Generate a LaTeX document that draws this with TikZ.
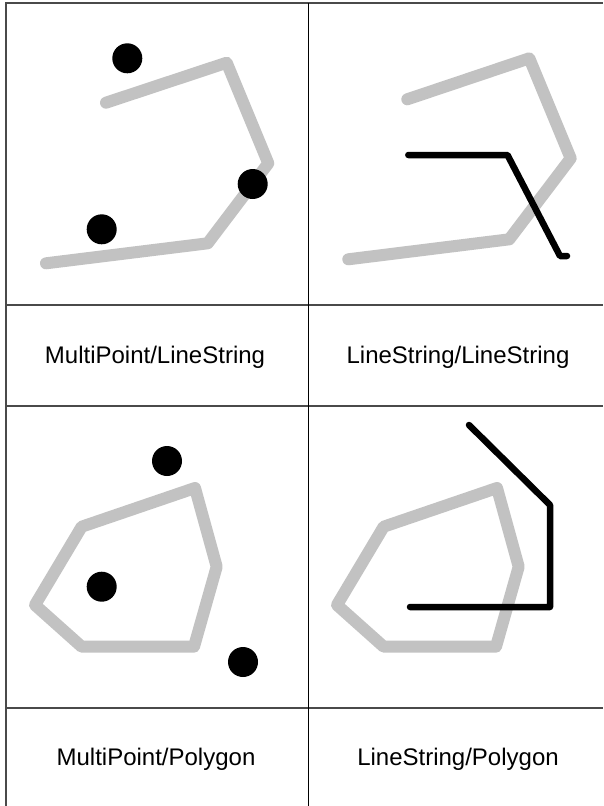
\documentclass[tikz,border=0pt]{standalone}
\usepackage{fontspec}
\setmainfont{Liberation Sans}
\definecolor{geomgrey}{HTML}{C2C2C2}
\definecolor{rulegrey}{HTML}{4A4A4A}
\begin{document}
\begin{tikzpicture}[x=1pt,y=-1pt,
  geom/.style={draw=geomgrey, line width=12pt, line cap=round, line join=round},
  blackline/.style={draw=black, line width=6.5pt, line cap=round, line join=round},
  dot/.style={circle, fill=black, inner sep=0pt, minimum size=30pt},
  lbl/.style={font=\fontsize{24}{28}\selectfont, anchor=base, inner sep=0pt},
  outer/.style={draw=rulegrey, line width=2pt},
  hrule/.style={draw=rulegrey, line width=2pt},
  vrule/.style={draw=black, line width=1.2pt}]
\useasboundingbox (0,0) rectangle (603,806);
\fill[white] (0,0) rectangle (603,806);
% table rules
\draw[outer] (5.5,806) -- (5.5,3) -- (603,3);
\draw[hrule] (5.5,304.7) -- (603,304.7);
\draw[hrule] (5.5,406) -- (603,406);
\draw[hrule] (5.5,708) -- (603,708);
\draw[vrule] (308.3,3) -- (308.3,806);
% panel 1: MultiPoint / LineString
\coordinate (a1) at (106,102.7);
\coordinate (a2) at (226.7,62.7);
\coordinate (a3) at (268.3,163.3);
\coordinate (a4) at (207.7,243.3);
\coordinate (a5) at (46,263.3);
\draw[geom] (a1) -- (a2) -- (a3) -- (a4) -- (a5);
\node[dot] (p1) at (127.3,58.3) {};
\node[dot] (p2) at (252.7,184) {};
\node[dot] (p3) at (101.7,229.3) {};
% panel 2: LineString / LineString
\coordinate (b1) at (407.3,99.3);
\coordinate (b2) at (529.3,58.3);
\coordinate (b3) at (570.7,158.3);
\coordinate (b4) at (509.3,239.3);
\coordinate (b5) at (348.3,259.3);
\draw[geom] (b1) -- (b2) -- (b3) -- (b4) -- (b5);
\coordinate (c1) at (408.3,155);
\coordinate (c2) at (507.5,155);
\coordinate (c3) at (560,256);
\coordinate (c4) at (567,256);
\draw[blackline] (c1) -- (c2) -- (c3) -- (c4);
% panel 3: MultiPoint / Polygon
\coordinate (d1) at (81.7,526.7);
\coordinate (d2) at (195,488);
\coordinate (d3) at (216.7,566.7);
\coordinate (d4) at (194,646.7);
\coordinate (d5) at (81.7,646.7);
\coordinate (d6) at (35,605);
\draw[geom] (d1) -- (d2) -- (d3) -- (d4) -- (d5) -- (d6) -- cycle;
\node[dot] (q1) at (167,461) {};
\node[dot] (q2) at (101.7,586.7) {};
\node[dot] (q3) at (243,662) {};
% panel 4: LineString / Polygon
\coordinate (e1) at (383.7,526.7);
\coordinate (e2) at (497,488);
\coordinate (e3) at (518.7,566.7);
\coordinate (e4) at (496,646.7);
\coordinate (e5) at (383.7,646.7);
\coordinate (e6) at (337,605);
\draw[geom] (e1) -- (e2) -- (e3) -- (e4) -- (e5) -- (e6) -- cycle;
\coordinate (f1) at (469,425);
\coordinate (f2) at (550,505);
\coordinate (f3) at (550,607);
\coordinate (f4) at (410,607);
\draw[blackline] (f1) -- (f2) -- (f3) -- (f4);
% labels
\node[lbl] (l1) at (155,363) {MultiPoint/LineString};
\node[lbl] (l2) at (458,363) {LineString/LineString};
\node[lbl] (l3) at (156,765) {MultiPoint/Polygon};
\node[lbl] (l4) at (458,765) {LineString/Polygon};
\end{tikzpicture}
\end{document}
